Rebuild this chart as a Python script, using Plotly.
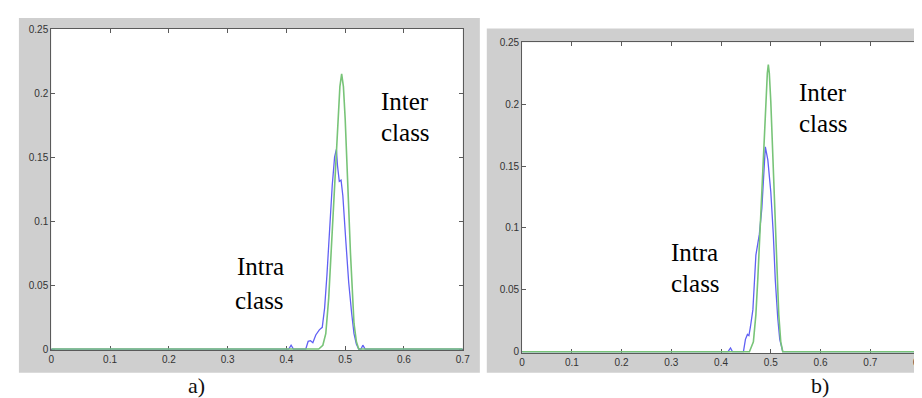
import plotly.graph_objects as go

# ---------------- data ----------------
# Panel a)
xa_intra = [0, 0.404, 0.408, 0.412, 0.433, 0.437, 0.441, 0.445, 0.450, 0.456, 0.461, 0.465,
            0.469, 0.473, 0.478, 0.482, 0.485, 0.487, 0.490, 0.493, 0.496, 0.501, 0.506,
            0.511, 0.515, 0.519, 0.523, 0.527, 0.530, 0.534, 0.7]
ya_intra = [0, 0, 0.003, 0, 0, 0.006, 0.0065, 0.005, 0.011, 0.015, 0.017, 0.032,
            0.058, 0.090, 0.128, 0.150, 0.156, 0.143, 0.131, 0.132, 0.120, 0.085, 0.052,
            0.028, 0.012, 0.004, 0, 0, 0.003, 0, 0]
xa_inter = [0, 0.455, 0.462, 0.467, 0.472, 0.476, 0.480, 0.484, 0.488, 0.491, 0.494, 0.497,
            0.500, 0.503, 0.506, 0.509, 0.512, 0.515, 0.519, 0.523, 0.7]
ya_inter = [0, 0, 0.003, 0.012, 0.040, 0.075, 0.110, 0.150, 0.185, 0.205, 0.215, 0.205,
            0.180, 0.150, 0.110, 0.075, 0.042, 0.020, 0.006, 0, 0]

# Panel b)
xb_intra = [0, 0.414, 0.419, 0.423, 0.445, 0.449, 0.453, 0.456, 0.459, 0.464, 0.470, 0.477,
            0.482, 0.487, 0.489, 0.494, 0.500, 0.505, 0.509, 0.514, 0.518, 0.524, 0.8]
yb_intra = [0, 0, 0.003, 0, 0, 0.010, 0.014, 0.013, 0.020, 0.034, 0.078, 0.095,
            0.116, 0.152, 0.1655, 0.155, 0.129, 0.095, 0.058, 0.027, 0.010, 0, 0]
xb_inter = [0, 0.457, 0.465, 0.470, 0.474, 0.478, 0.482, 0.486, 0.490, 0.493, 0.495, 0.497,
            0.500, 0.503, 0.506, 0.509, 0.512, 0.516, 0.520, 0.524, 0.8]
yb_inter = [0, 0, 0.008, 0.030, 0.060, 0.095, 0.135, 0.165, 0.205, 0.225, 0.232, 0.225,
            0.202, 0.170, 0.136, 0.100, 0.068, 0.030, 0.008, 0, 0]

xticks_a = [0, 0.1, 0.2, 0.3, 0.4, 0.5, 0.6, 0.7]
xtext_a = ["0", "0.1", "0.2", "0.3", "0.4", "0.5", "0.6", "0.7"]
xticks_b = [0, 0.1, 0.2, 0.3, 0.4, 0.5, 0.6, 0.7, 0.8]
xtext_b = ["0", "0.1", "0.2", "0.3", "0.4", "0.5", "0.6", "0.7", "0.8"]
yticks = [0, 0.05, 0.1, 0.15, 0.2, 0.25]
ytext = ["0", "0.05", "0.1", "0.15", "0.2", "0.25"]

panel_labels = ["a)", "b)"]
word_inter = ["Inter", "class"]
word_intra = ["Intra", "class"]

# ---------------- figure ----------------
W, H = 922, 398
BLUE = "#6060f4"
GREEN = "#78c478"

fig = go.Figure()
fig.add_trace(go.Scatter(x=xa_intra, y=ya_intra, mode="lines", line=dict(color=BLUE, width=1.3),
                         xaxis="x", yaxis="y", showlegend=False, hoverinfo="skip"))
fig.add_trace(go.Scatter(x=xa_inter, y=ya_inter, mode="lines", line=dict(color=GREEN, width=1.6),
                         xaxis="x", yaxis="y", showlegend=False, hoverinfo="skip"))
fig.add_trace(go.Scatter(x=xb_intra, y=yb_intra, mode="lines", line=dict(color=BLUE, width=1.3),
                         xaxis="x2", yaxis="y2", showlegend=False, hoverinfo="skip"))
fig.add_trace(go.Scatter(x=xb_inter, y=yb_inter, mode="lines", line=dict(color=GREEN, width=1.6),
                         xaxis="x2", yaxis="y2", showlegend=False, hoverinfo="skip"))

def px_x(p):
    return p / W

def px_y(p):
    return 1 - p / H

tickfont = dict(family="Liberation Sans, Arial, sans-serif", size=10, color="#333333")
axis_common = dict(showgrid=False, zeroline=False, showline=True, linecolor="#5a5a5a", linewidth=1,
                   mirror="ticks", ticks="inside", ticklen=4, tickcolor="#5a5a5a",
                   tickfont=tickfont, layer="below traces", fixedrange=True)

fig.update_layout(
    width=W, height=H,
    margin=dict(l=0, r=0, t=0, b=0),
    paper_bgcolor="white", plot_bgcolor="white",
    xaxis=dict(domain=[px_x(40.7), px_x(456.7)], range=[0, 0.7], anchor="y",
               tickvals=xticks_a, ticktext=xtext_a, **axis_common),
    yaxis=dict(domain=[px_y(345), px_y(15.5)], range=[-0.001, 0.25], anchor="x",
               tickvals=yticks, ticktext=ytext, **axis_common),
    xaxis2=dict(domain=[px_x(516.7), px_x(919)], range=[0, 0.8], anchor="y2",
                tickvals=xticks_b, ticktext=xtext_b, **axis_common),
    yaxis2=dict(domain=[px_y(347.7), px_y(29)], range=[-0.001, 0.25], anchor="x2",
                tickvals=yticks, ticktext=ytext, **axis_common),
)

GRAY = "#cfcfcf"
shapes = [
    dict(type="rect", xref="paper", yref="paper", x0=px_x(8), x1=px_x(474), y0=px_y(368), y1=px_y(4),
         fillcolor=GRAY, line=dict(width=0), layer="below"),
    dict(type="rect", xref="paper", yref="paper", x0=px_x(481), x1=1.0, y0=px_y(368), y1=px_y(15),
         fillcolor=GRAY, line=dict(width=0), layer="below"),
    dict(type="rect", xref="x domain", yref="y domain", x0=0, x1=1, y0=0, y1=1,
         fillcolor="white", line=dict(width=0), layer="below"),
    dict(type="rect", xref="x2 domain", yref="y2 domain", x0=0, x1=1, y0=0, y1=1,
         fillcolor="white", line=dict(width=0), layer="below"),
]
fig.update_layout(shapes=shapes)

serif = dict(family="Liberation Serif, Times New Roman, serif", size=25, color="#000000")
ann = []
# panel a words
ann.append(dict(x=0.5575, y=0.1935, xref="x", yref="y", text=word_inter[0]))
ann.append(dict(x=0.5575, y=0.1692, xref="x", yref="y", text=word_inter[1]))
ann.append(dict(x=0.3118, y=0.0645, xref="x", yref="y", text=word_intra[0]))
ann.append(dict(x=0.3090, y=0.0379, xref="x", yref="y", text=word_intra[1]))
# panel b words
ann.append(dict(x=0.5534, y=0.2092, xref="x2", yref="y2", text=word_inter[0]))
ann.append(dict(x=0.5534, y=0.1841, xref="x2", yref="y2", text=word_inter[1]))
ann.append(dict(x=0.2949, y=0.0798, xref="x2", yref="y2", text=word_intra[0]))
ann.append(dict(x=0.2949, y=0.0555, xref="x2", yref="y2", text=word_intra[1]))
for a in ann:
    a.update(showarrow=False, xanchor="left", yanchor="middle", font=serif)

labfont = dict(family="Liberation Serif, Times New Roman, serif", size=22, color="#111111")
ann.append(dict(x=px_x(188), y=px_y(381), xref="paper", yref="paper", text=panel_labels[0],
                showarrow=False, xanchor="center", yanchor="middle", font=labfont))
ann.append(dict(x=px_x(818), y=px_y(381), xref="paper", yref="paper", text=panel_labels[1],
                showarrow=False, xanchor="center", yanchor="middle", font=labfont))
fig.update_layout(annotations=ann)

fig.write_html("out.html")
